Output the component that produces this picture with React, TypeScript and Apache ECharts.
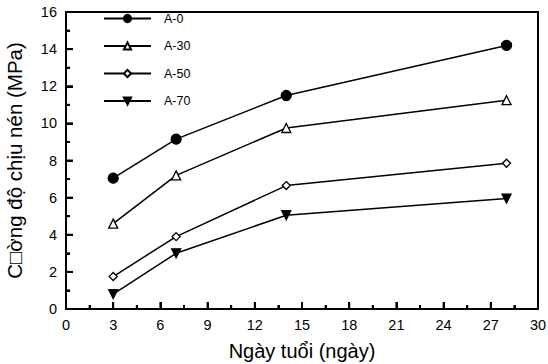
import React, { useEffect, useRef } from "react";
import * as echarts from "echarts";

const days = [3, 7, 14, 28];
const seriesNames = ["A-0", "A-30", "A-50", "A-70"];
const a0 = [7.05, 9.15, 11.5, 14.2];
const a30 = [4.6, 7.2, 9.75, 11.25];
const a50 = [1.75, 3.9, 6.65, 7.85];
const a70 = [0.8, 3.0, 5.05, 5.95];
const xTicks = [0, 3, 6, 9, 12, 15, 18, 21, 24, 27, 30];
const yTicks = [0, 2, 4, 6, 8, 10, 12, 14, 16];

const FONT = "Liberation Sans, Arial, sans-serif";
const W = 548;
const H = 364;
const G = { left: 66, right: 10, top: 12, bottom: 55 };

export default function App() {
  const ref = useRef<HTMLDivElement>(null);
  useEffect(() => {
    if (!ref.current) return;
    const chart = echarts.init(ref.current, null, { renderer: "svg" });
    const values = [a0, a30, a50, a70];
    const symbols = [
      { symbol: "circle", size: 10, fill: "#000" },
      { symbol: "triangle", size: 9, fill: "#fff" },
      { symbol: "diamond", size: 8, fill: "#fff" },
      { symbol: "path://M0,0 L10,0 L5,9 Z", size: 9, fill: "#000" },
    ];
    const series: any[] = seriesNames.map((name, i) => ({
      name,
      type: "line",
      data: days.map((d, j) => [d, values[i][j]]),
      symbol: symbols[i].symbol,
      symbolSize: symbols[i].size,
      showAllSymbol: true,
      lineStyle: { color: "#000", width: 1.5 },
      itemStyle: { color: symbols[i].fill, borderColor: "#000", borderWidth: 1.3 },
      z: 5,
    }));

    chart.setOption({
      animation: false,
      backgroundColor: "#fff",
      grid: {
        ...G,
        outerBoundsMode: "none",
        containLabel: false,
        show: true,
        borderColor: "#000",
        borderWidth: 2,
        backgroundColor: "transparent",
      },
      legend: {
        orient: "vertical",
        left: 98,
        top: 7,
        itemWidth: 47,
        itemHeight: 9,
        itemGap: 14.5,
        data: seriesNames,
        textStyle: { fontFamily: FONT, fontSize: 12.5, color: "#000", padding: [0, 0, 0, 8] },
      },
      xAxis: {
        type: "value",
        min: 0,
        max: 30,
        interval: 3,
        position: "bottom",
        name: "Ngày tuổi (ngày)",
        nameLocation: "middle",
        nameGap: 32,
        nameTextStyle: { fontFamily: FONT, fontSize: 20, color: "#000" },
        axisLine: { show: true, onZero: false, lineStyle: { color: "#000", width: 2 } },
        axisTick: { show: true, inside: true, length: 7, lineStyle: { color: "#000", width: 2 } },
        minorTick: { show: true, splitNumber: 2, length: 4, lineStyle: { color: "#000", width: 2 } },
        axisLabel: { fontFamily: FONT, fontSize: 14.5, color: "#000", margin: 8, customValues: xTicks },
        splitLine: { show: false },
      },
      yAxis: {
        type: "value",
        min: 0,
        max: 16,
        interval: 2,
        position: "left",
        name: "C\u25A1ờng độ chịu nén (MPa)",
        nameLocation: "middle",
        nameGap: 41,
        nameTextStyle: { fontFamily: FONT, fontSize: 20.5, color: "#000" },
        axisLine: { show: true, onZero: false, lineStyle: { color: "#000", width: 2 } },
        axisTick: { show: true, inside: true, length: 7, lineStyle: { color: "#000", width: 2 } },
        minorTick: { show: true, splitNumber: 2, length: 4, lineStyle: { color: "#000", width: 2 } },
        axisLabel: { fontFamily: FONT, fontSize: 14.5, color: "#000", margin: 9 },
        splitLine: { show: false },
      },
      series,
    });

    // inward tick marks positioned through the chart's own scales
    const lines: any[] = [];
    const stroke = { stroke: "#000", lineWidth: 2 };
    xTicks.forEach((v, i) => {
      const vals = [v];
      if (i < xTicks.length - 1) vals.push((v + xTicks[i + 1]) / 2);
      vals.forEach((t, k) => {
        const p = chart.convertToPixel({ xAxisIndex: 0, yAxisIndex: 0 }, [t, 0]) as number[];
        const len = k === 0 ? 7 : 4;
        lines.push({ type: "line", silent: true, z: 100, shape: { x1: p[0], y1: p[1], x2: p[0], y2: p[1] - len }, style: stroke });
      });
    });
    yTicks.forEach((v, i) => {
      const vals = [v];
      if (i < yTicks.length - 1) vals.push((v + yTicks[i + 1]) / 2);
      vals.forEach((t, k) => {
        const p = chart.convertToPixel({ xAxisIndex: 0, yAxisIndex: 0 }, [0, t]) as number[];
        const len = k === 0 ? 7 : 4;
        lines.push({ type: "line", silent: true, z: 100, shape: { x1: p[0], y1: p[1], x2: p[0] + len, y2: p[1] }, style: stroke });
      });
    });
    chart.setOption({ graphic: { elements: lines } });

    return () => chart.dispose();
  }, []);
  return <div ref={ref} style={{ width: W, height: H, position: "absolute", left: 0, top: 0 }} />;
}
